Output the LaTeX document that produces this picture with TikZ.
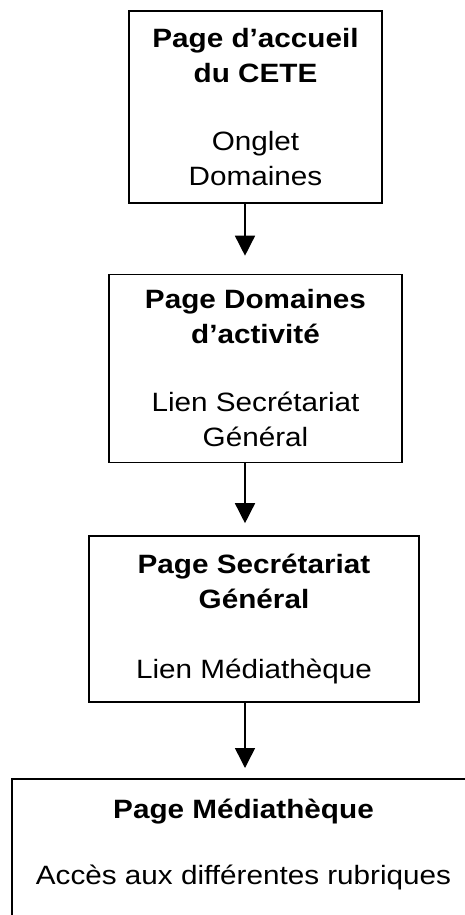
\documentclass[tikz,border=0pt]{standalone}
\usepackage{fontspec}
\newfontfamily\boxfont[FakeStretch=1.12]{Liberation Sans}
\usetikzlibrary{arrows.meta}
\tikzset{pagebox/.style={draw, line width=1.6pt, inner sep=0pt, align=center,
    font=\boxfont\fontsize{26.5}{35}\selectfont}}
\tikzset{link/.style={line width=1.5pt, -{Triangle[width=20pt,length=20pt]}}}

\begin{document}
\begin{tikzpicture}[x=1pt,y=-1pt]
  \clip (0,0) rectangle (465,915);

  \node[pagebox, minimum width=253, minimum height=192] (accueil) at (255.5,107)
    {\textbf{Page d’accueil}\\\textbf{du CETE}\\[33pt]Onglet\\Domaines};
  \node[pagebox, minimum width=293, minimum height=188] (domaines) at (255.5,368.5)
    {\textbf{Page Domaines}\\\textbf{d’activité}\\[33pt]Lien Secrétariat\\Général};
  \node[pagebox, minimum width=330, minimum height=166] (secretariat) at (254,619)
    {\textbf{Page Secrétariat}\\\textbf{Général}\\[35pt]Lien Médiathèque};
  \node[pagebox, anchor=north, minimum width=463, inner ysep=20pt, text depth=95pt] (mediatheque) at (243.5,778)
    {\textbf{Page Médiathèque}\\[31pt]Accès aux différentes rubriques};

  \coordinate (ax) at (245,0);
  \draw[link, shorten >=18pt] (accueil.south -| ax) -- (domaines.north -| ax);
  \draw[link, shorten >=12pt] (domaines.south -| ax) -- (secretariat.north -| ax);
  \draw[link, shorten >=10pt] (secretariat.south -| ax) -- (mediatheque.north -| ax);
\end{tikzpicture}
\end{document}
